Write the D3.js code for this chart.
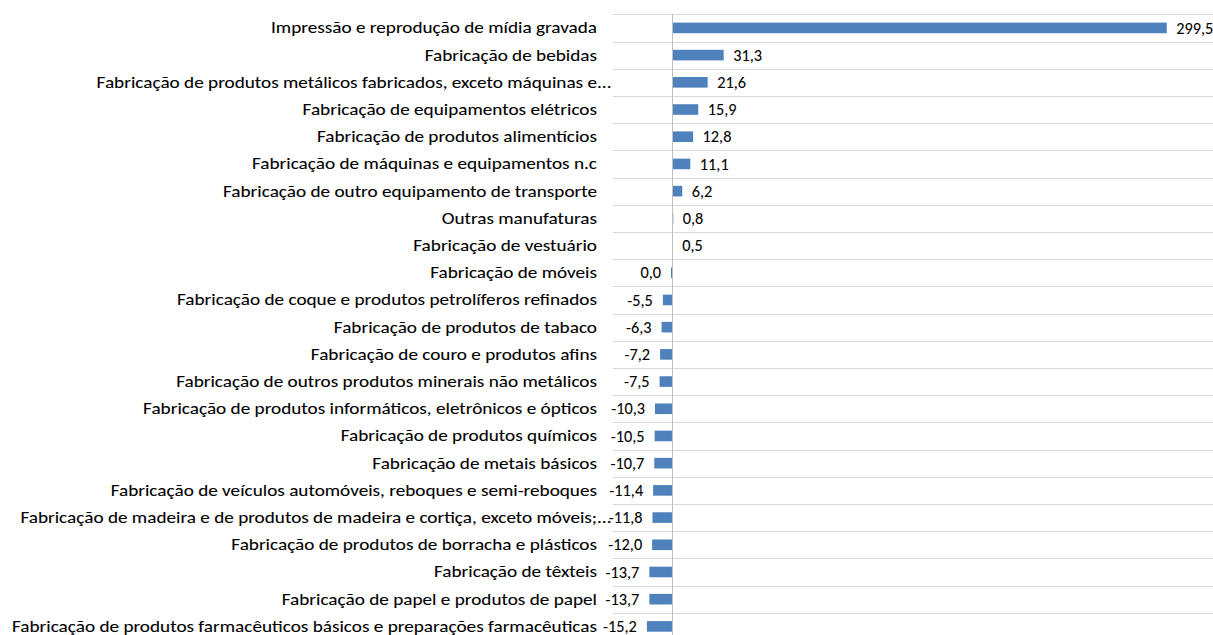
<!DOCTYPE html>
<html>
<head>
<meta charset="utf-8">
<script src="https://cdn.jsdelivr.net/npm/d3@7"></script>
<style>
  html, body { margin: 0; padding: 0; background: #fff; }
  svg { display: block; }
  text { font-family: Carlito, Calibri, "Liberation Sans", sans-serif; fill: #000; stroke: #000; stroke-width: 0.08px; }
</style>
</head>
<body>
<div id="plot-container"></div>
<script>
// categories, top to bottom
const categories = [
  "Impressão e reprodução de mídia gravada",
  "Fabricação de bebidas",
  "Fabricação de produtos metálicos fabricados, exceto máquinas e...",
  "Fabricação de equipamentos elétricos",
  "Fabricação de produtos alimentícios",
  "Fabricação de máquinas e equipamentos n.c",
  "Fabricação de outro equipamento de transporte",
  "Outras manufaturas",
  "Fabricação de vestuário",
  "Fabricação de móveis",
  "Fabricação de coque e produtos petrolíferos refinados",
  "Fabricação de produtos de tabaco",
  "Fabricação de couro e produtos afins",
  "Fabricação de outros produtos minerais não metálicos",
  "Fabricação de produtos informáticos, eletrônicos e ópticos",
  "Fabricação de produtos químicos",
  "Fabricação de metais básicos",
  "Fabricação de veículos automóveis, reboques e semi-reboques",
  "Fabricação de madeira e de produtos de madeira e cortiça, exceto móveis;...",
  "Fabricação de produtos de borracha e plásticos",
  "Fabricação de têxteis",
  "Fabricação de papel e produtos de papel",
  "Fabricação de produtos farmacêuticos básicos e preparações farmacêuticas"
];

const values = [
  299.5, 31.3, 21.6, 15.9, 12.8, 11.1, 6.2, 0.8, 0.5, 0.0,
  -5.5, -6.3, -7.2, -7.5, -10.3, -10.5, -10.7, -11.4, -11.8, -12.0,
  -13.7, -13.7, -15.2
];

const fmt = v => d3.format(".1f")(v).replace("\u2212", "-").replace(".", ",");

const width = 1213, height = 635;
const plot = { left: 613, right: 1213, top: 14.3, bottom: 640 };
const labelEnd = 597;

const svg = d3.select("#plot-container").append("svg")
  .attr("width", width)
  .attr("height", height);

const x = d3.scaleLinear()
  .domain([-35.7, 327.5])
  .range([plot.left, plot.right]);

const y = d3.scaleBand()
  .domain(categories)
  .range([plot.top, plot.bottom])
  .paddingInner(0.61)
  .paddingOuter(0.305);

const step = y.step();
const start = plot.top;

// horizontal gridlines on category boundaries
svg.append("g")
  .selectAll("line")
  .data(d3.range(categories.length + 1))
  .join("line")
  .attr("x1", plot.left)
  .attr("x2", plot.right)
  .attr("y1", i => Math.round(start + i * step) + 0.5)
  .attr("y2", i => Math.round(start + i * step) + 0.5)
  .attr("stroke", "#d9d9d9")
  .attr("stroke-width", 1);

// bars
svg.append("g")
  .selectAll("rect")
  .data(values)
  .join("rect")
  .attr("x", v => (v > 0 ? x(0) : x(v) - (v === 0 ? 1 : 0)))
  .attr("width", v => (v === 0 ? 1 : Math.abs(x(v) - x(0))))
  .attr("y", (v, i) => y(categories[i]))
  .attr("height", y.bandwidth())
  .attr("fill", "#4f81bd");

// zero axis
svg.append("line")
  .attr("x1", Math.round(x(0)) + 0.5)
  .attr("x2", Math.round(x(0)) + 0.5)
  .attr("y1", plot.top)
  .attr("y2", height)
  .attr("stroke", "#bfbfbf")
  .attr("stroke-width", 1);

const fontSize = 15.5;

// category labels
const catLabels = svg.append("g")
  .selectAll("text")
  .data(categories)
  .join("text")
  .attr("x", labelEnd)
  .attr("y", d => y(d) + y.bandwidth() / 2)
  .attr("dy", "0.35em")
  .attr("text-anchor", "end")
  .style("font-size", fontSize + "px")
  .text(d => d);

// value labels
svg.append("g")
  .selectAll("text")
  .data(values)
  .join("text")
  .attr("x", v => (v > 0 ? x(v) + 9.5 : x(Math.min(v, 0)) - (v === 0 ? 11 : 10)))
  .attr("y", (v, i) => y(categories[i]) + y.bandwidth() / 2)
  .attr("dy", "0.35em")
  .attr("text-anchor", v => (v > 0 ? "start" : "end"))
  .style("font-size", "16.3px")
  .text(fmt);

// match the category label widths to the picture
const firstW = catLabels.node().getComputedTextLength();
const k = 326 / firstW;
const probe = svg.append("text").style("font-size", fontSize + "px").text("...");
const dotsW = probe.node().getComputedTextLength() * k;
probe.remove();
catLabels.each(function (d) {
  const w = this.getComputedTextLength();
  const sel = d3.select(this).attr("textLength", w * k).attr("lengthAdjust", "spacingAndGlyphs");
  // truncated labels let their dots hang past the alignment edge
  if (d.endsWith("...")) sel.attr("x", labelEnd + dotsW);
});
</script>
</body>
</html>
